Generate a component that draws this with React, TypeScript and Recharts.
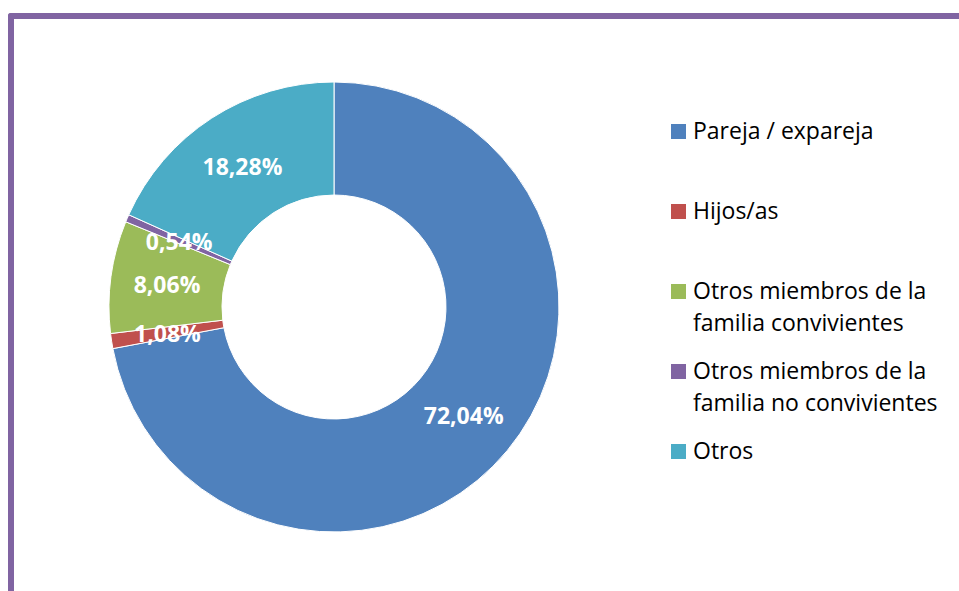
import { PieChart, Pie, Cell } from "recharts";

const categories = [
  "Pareja / expareja",
  "Hijos/as",
  "Otros miembros de la familia convivientes",
  "Otros miembros de la familia no convivientes",
  "Otros",
];
const percentages = [72.04, 1.08, 8.06, 0.54, 18.28];
const COLORS = ["#4F81BD", "#C0504D", "#9BBB59", "#8064A2", "#4BACC6"];

const chartData = categories.map((name, i) => ({ name, value: percentages[i] }));

const FONT = "'Open Sans', Lato, sans-serif";
const RAD = Math.PI / 180;

const renderLabel = (props: any) => {
  const { cx, cy, midAngle, innerRadius, outerRadius, value } = props;
  const r = (innerRadius + outerRadius) / 2;
  const x = cx + r * Math.cos(-midAngle * RAD);
  const y = cy + r * Math.sin(-midAngle * RAD);
  return (
    <text
      x={x}
      y={y}
      fill="#fff"
      fontFamily={FONT}
      fontWeight="bold"
      fontSize={23}
      textAnchor="middle"
      dominantBaseline="central"
    >
      {value.toFixed(2).replace(".", ",")}%
    </text>
  );
};

function ChartLegend() {
  return (
    <div
      style={{
        position: "absolute",
        left: 671,
        top: 114,
        width: 300,
        fontFamily: FONT,
        fontSize: 23,
        color: "#000",
      }}
    >
      {chartData.map((d, i) => (
        <div key={d.name} style={{ height: 80, display: "flex", alignItems: "flex-start" }}>
          <span
            style={{
              width: 15,
              height: 15,
              background: COLORS[i],
              marginTop: 10,
              marginRight: 7,
              flex: "none",
            }}
          />
          <span style={{ width: 265, lineHeight: "32px" }}>{d.name}</span>
        </div>
      ))}
    </div>
  );
}

export default function App() {
  return (
    <div
      style={{
        position: "absolute",
        left: 0,
        top: 0,
        width: 959,
        height: 591,
        overflow: "hidden",
        background: "#fff",
      }}
    >
      <div
        style={{
          position: "absolute",
          left: 8,
          top: 13,
          width: 1100,
          height: 800,
          borderTop: "6px solid #8064A2",
          borderLeft: "6px solid #8064A2",
          borderTopLeftRadius: 3,
        }}
      />
      <div style={{ position: "absolute", left: 0, top: 0 }}>
        <PieChart width={959} height={591} margin={{ top: 0, right: 0, bottom: 0, left: 0 }}>
          <Pie
            data={chartData}
            dataKey="value"
            nameKey="name"
            cx={334}
            cy={307}
            innerRadius={112}
            outerRadius={225}
            startAngle={90}
            endAngle={-270}
            stroke="#fff"
            strokeWidth={1}
            label={renderLabel}
            labelLine={false}
            isAnimationActive={false}
          >
            {chartData.map((_, i) => (
              <Cell key={`cell-${i}`} fill={COLORS[i]} />
            ))}
          </Pie>
        </PieChart>
      </div>
      <ChartLegend />
    </div>
  );
}
